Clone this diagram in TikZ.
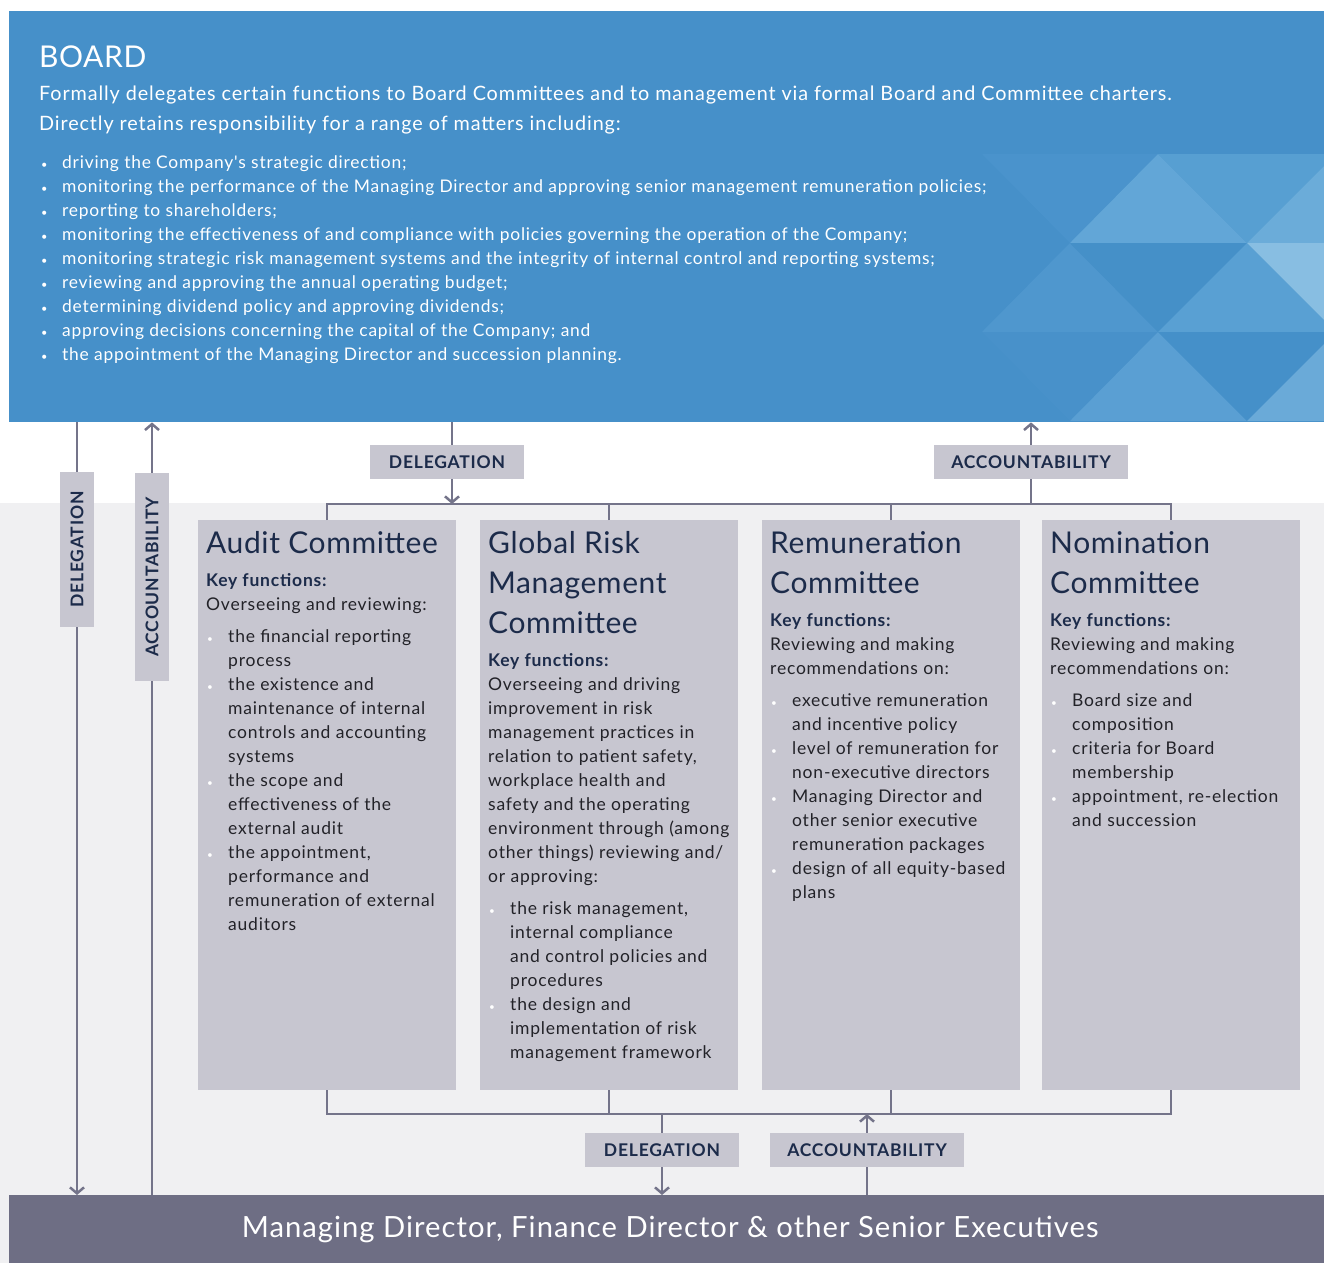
\documentclass[tikz,border=0pt]{standalone}
\usepackage{fontspec}
\setmainfont{Lato}[LetterSpace=4.5, Ligatures=TeXOff]
\newfontfamily\headfont{Lato}[LetterSpace=2]
\newfontfamily\barfont{Lato}[LetterSpace=3.5]
\usetikzlibrary{arrows.meta}

\definecolor{boardblue}{HTML}{4690C9}
\definecolor{linegray}{HTML}{74748A}
\definecolor{boxgray}{HTML}{C7C6D0}
\definecolor{navy}{HTML}{1C2B4A}
\definecolor{textdark}{HTML}{222228}
\definecolor{execgray}{HTML}{6E6E84}
\definecolor{paleback}{HTML}{F0F0F2}

\pgfdeclarelayer{front}
\pgfsetlayers{main,front}

% bullet helpers for the lists
\newcommand\cbul{\makebox[22pt][l]{\hspace{1pt}\textcolor{white}{\fontsize{10}{10}\selectfont\textbullet}}}
\newcommand\cind{\hspace*{22pt}}
\newcommand\bbul{\makebox[21pt][l]{\fontsize{11}{11}\selectfont\textbullet}}
\newcommand\keyf{{\color{navy}\bfseries Key functions:}}
% top-aligned block of explicit lines
\newcommand\block[1]{\parbox[t]{600pt}{\leavevmode#1}}
\newcommand\wideblock[1]{\parbox[t]{1250pt}{\leavevmode#1}}

\begin{document}
\begin{tikzpicture}[x=1pt,y=-1pt,
  flow/.style={draw=linegray, line width=2.5pt},
  arr/.style={flow, -{Straight Barb[length=6pt,width=14pt]}},
  tag/.style={fill=boxgray, text=navy, font=\fontsize{17.5}{20}\selectfont\bfseries,
    inner sep=0, minimum height=34pt},
  cbox/.style={fill=boxgray, minimum width=258pt, minimum height=570pt, inner sep=0, anchor=north west},
  ctitle/.style={anchor=base west, text=navy, font=\headfont\fontsize{30}{40}\selectfont, inner sep=0},
  cbody/.style={anchor=base west, text=textdark, font=\fontsize{17.5}{24}\selectfont, inner sep=0}
]
\useasboundingbox (0,0) rectangle (1324,1263);
\fill[white] (0,0) rectangle (1324,1263);
\fill[paleback] (0,503) rectangle (1324,1263);

% board panel with its triangle pattern
\node[anchor=north west, fill=boardblue, minimum width=1315pt, minimum height=411pt, inner sep=0] (board) at (9,11) {};
\begin{scope}
  \clip (board.south west) rectangle (board.north east);
  \fill[color={rgb,255:red,74;green,147;blue,204}] (982,154) -- (1158,154) -- (1070,243) -- cycle;
  \fill[color={rgb,255:red,98;green,166;blue,215}] (1070,243) -- (1247,243) -- (1158,154) -- cycle;
  \fill[color={rgb,255:red,87;green,159;blue,210}] (1158,154) -- (1336,154) -- (1247,243) -- cycle;
  \fill[color={rgb,255:red,107;green,172;blue,217}] (1247,243) -- (1424,243) -- (1336,154) -- cycle;
  \fill[color={rgb,255:red,79;green,151;blue,206}] (982,332) -- (1158,332) -- (1070,243) -- cycle;
  \fill[color={rgb,255:red,69;green,144;blue,200}] (1070,243) -- (1247,243) -- (1158,332) -- cycle;
  \fill[color={rgb,255:red,89;green,160;blue,211}] (1158,332) -- (1336,332) -- (1247,243) -- cycle;
  \fill[color={rgb,255:red,136;green,190;blue,226}] (1247,243) -- (1424,243) -- (1336,332) -- cycle;
  \fill[color={rgb,255:red,72;green,145;blue,202}] (982,332) -- (1158,332) -- (1070,421) -- cycle;
  \fill[color={rgb,255:red,90;green,159;blue,211}] (1070,421) -- (1247,421) -- (1158,332) -- cycle;
  \fill[color={rgb,255:red,69;green,144;blue,201}] (1158,332) -- (1336,332) -- (1247,421) -- cycle;
  \fill[color={rgb,255:red,106;green,170;blue,216}] (1247,421) -- (1424,421) -- (1336,332) -- cycle;
\end{scope}

\node[anchor=base west, text=white, font=\headfont\fontsize{30}{30}\selectfont, inner sep=0] (btitle) at (39,67) {BOARD};
\node[anchor=base west, text=white, font=\fontsize{19.8}{30}\selectfont, inner sep=0] (bintro) at (39,100)
  {\wideblock{Formally delegates certain functions to Board Committees and to management via formal Board and Committee charters.\\
   Directly retains responsibility for a range of matters including:}};
\node[anchor=base west, text=white, font=\fontsize{17.4}{24}\selectfont, inner sep=0] (blist) at (41,168)
  {\wideblock{\bbul driving the Company's strategic direction;\\
   \bbul monitoring the performance of the Managing Director and approving senior management remuneration policies;\\
   \bbul reporting to shareholders;\\
   \bbul monitoring the effectiveness of and compliance with policies governing the operation of the Company;\\
   \bbul monitoring strategic risk management systems and the integrity of internal control and reporting systems;\\
   \bbul reviewing and approving the annual operating budget;\\
   \bbul determining dividend policy and approving dividends;\\
   \bbul approving decisions concerning the capital of the Company; and\\
   \bbul the appointment of the Managing Director and succession planning.}};

% executive bar
\node[anchor=north west, fill=execgray, minimum width=1315pt, minimum height=68pt, inner sep=0,
  text=white, font=\barfont\fontsize{29.2}{30}\selectfont] (exec) at (9,1195)
  {\hspace{7pt}Managing Director, Finance Director \& other Senior Executives};

% committees
\node[cbox] (c1) at (198,520) {};
\node[cbox] (c2) at (480,520) {};
\node[cbox] (c3) at (762,520) {};
\node[cbox] (c4) at (1042,520) {};

\node[ctitle] (t1) at (206,553) {Audit Committee};
\node[cbody] (b1) at (206,586) {\block{\keyf\\
  Overseeing and reviewing:\\[8pt]
  \cbul the financial reporting\\ \cind process\\
  \cbul the existence and\\ \cind maintenance of internal\\ \cind controls and accounting\\ \cind systems\\
  \cbul the scope and\\ \cind effectiveness of the\\ \cind external audit\\
  \cbul the appointment,\\ \cind performance and\\ \cind remuneration of external\\ \cind auditors}};

\node[ctitle] (t2) at (488,553) {\block{Global Risk\\Management\\Committee}};
\node[cbody] (b2) at (488,666) {\block{\keyf\\
  Overseeing and driving\\ improvement in risk\\ management practices in\\ relation to patient safety,\\
  workplace health and\\ safety and the operating\\ environment through (among\\ other things) reviewing and/\\ or approving:\\[8pt]
  \cbul the risk management,\\ \cind internal compliance\\ \cind and control policies and\\ \cind procedures\\
  \cbul the design and\\ \cind implementation of risk\\ \cind management framework}};

\node[ctitle] (t3) at (770,553) {\block{Remuneration\\Committee}};
\node[cbody] (b3) at (770,626) {\block{\keyf\\
  Reviewing and making\\ recommendations on:\\[8pt]
  \cbul executive remuneration\\ \cind and incentive policy\\
  \cbul level of remuneration for\\ \cind non-executive directors\\
  \cbul Managing Director and\\ \cind other senior executive\\ \cind remuneration packages\\
  \cbul design of all equity-based\\ \cind plans}};

\node[ctitle] (t4) at (1050,553) {\block{Nomination\\Committee}};
\node[cbody] (b4) at (1050,626) {\block{\keyf\\
  Reviewing and making\\ recommendations on:\\[8pt]
  \cbul Board size and\\ \cind composition\\
  \cbul criteria for Board\\ \cind membership\\
  \cbul appointment, re-election\\ \cind and succession}};

% bus rails above and below the committees
\coordinate (busT) at (0,504);
\coordinate (busB) at (0,1114);
\coordinate (dtx) at (452,462);

\draw[flow] (c1.north) -- (c1.north |- busT) -- (c4.north |- busT) -- (c4.north);
\draw[flow] (c2.north) -- (c2.north |- busT);
\draw[flow] (c3.north) -- (c3.north |- busT);
\draw[flow] (c1.south) -- (c1.south |- busB) -- (c4.south |- busB) -- (c4.south);
\draw[flow] (c2.south) -- (c2.south |- busB);
\draw[flow] (c3.south) -- (c3.south |- busB);

% label tags, kept above the flow lines
\begin{pgfonlayer}{front}
\node[tag, minimum width=154pt] (dt) at (447,462) {DELEGATION};
\node[tag, minimum width=194pt] (at) at (1031,462) {ACCOUNTABILITY};
\node[tag, minimum width=154pt] (db) at (662,1150) {DELEGATION};
\node[tag, minimum width=194pt] (ab) at (867,1150) {ACCOUNTABILITY};
\node[tag, minimum width=155pt, rotate=90] (dl) at (77,549.5) {DELEGATION};
\node[tag, minimum width=208pt, rotate=90] (al) at (152,577) {ACCOUNTABILITY};
\end{pgfonlayer}

% delegation and accountability flows
\draw[arr] (dl |- board.south) -- (dl |- exec.north);
\draw[arr] (al |- exec.north) -- (al |- board.south);
\draw[arr] (dtx |- board.south) -- (dtx |- busT);
\draw[arr] (at |- busT) -- (at |- board.south);
\draw[arr] (db |- busB) -- (db |- exec.north);
\draw[arr] (ab |- exec.north) -- (ab |- busB);
\end{tikzpicture}
\end{document}
